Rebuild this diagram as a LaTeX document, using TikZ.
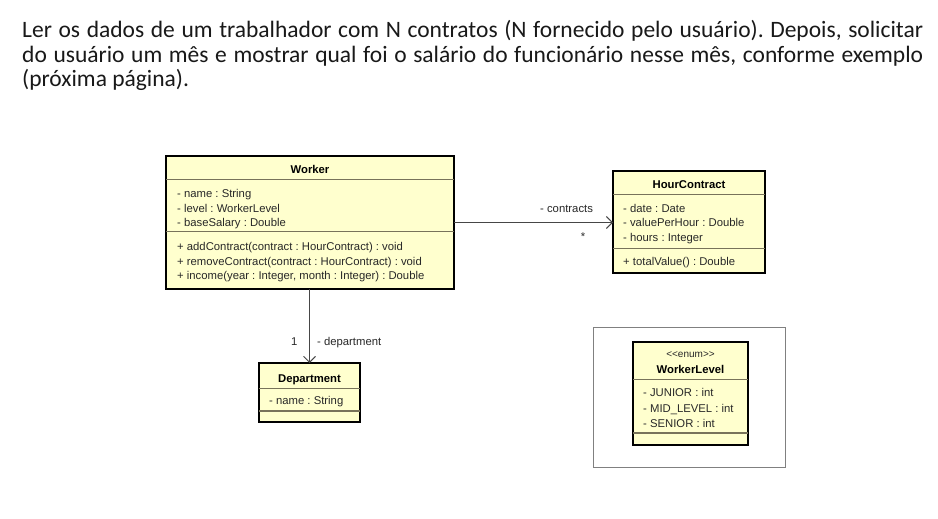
\documentclass[tikz,border=0pt]{standalone}
\usepackage{fontspec}
\setmainfont{Liberation Sans}
\newfontfamily\headfont{Carlito}
\usetikzlibrary{arrows.meta}
\definecolor{umlfill}{RGB}{255,255,206}
\definecolor{sepcol}{RGB}{120,115,90}
\definecolor{linkcol}{RGB}{70,70,70}
\definecolor{txtcol}{RGB}{40,40,40}
\frenchspacing
\begin{document}
\begin{tikzpicture}[x=1pt,y=-1pt,
  umlbox/.style={draw=black, line width=2pt, fill=umlfill, inner sep=0pt, outer sep=0pt},
  sep/.style={draw=sepcol, line width=0.9pt},
  ut/.style={font=\fontsize{11.3}{14}\selectfont, text=txtcol, inner sep=0pt, anchor=base west},
  utc/.style={ut, anchor=base},
  ttl/.style={font=\bfseries\fontsize{11.3}{14}\selectfont, text=black, inner sep=0pt, anchor=base},
  assoc/.style={draw=linkcol, line width=0.9pt, -{Straight Barb[length=6pt,width=12pt,line width=0.9pt]}},
  head/.style={font=\headfont\fontsize{23.5}{26}\selectfont, text=black!90, inner sep=0pt, anchor=base west},
  frame/.style={draw=black!50, line width=0.8pt, inner sep=0pt, outer sep=0pt}
]
\useasboundingbox[fill=white] (0,0) rectangle (938,519);

% heading
\node[head] (h1) at (22,38) {\makebox[901pt][s]{Ler os dados de um trabalhador com N contratos (N fornecido pelo usuário). Depois, solicitar}};
\node[head] (h2) at (22,63) {\makebox[901pt][s]{do usuário um mês e mostrar qual foi o salário do funcionário nesse mês, conforme exemplo}};
\node[head] (h3) at (22,87) {(próxima página).};

% Worker
\node[umlbox, minimum width=288pt, minimum height=133pt] (worker) at (310,222.5) {};
\draw[sep] (166,179) -- (454,179);
\draw[sep] (166,231) -- (454,231);
\node[ttl] (wt) at (310,173) {Worker};
\node[ut] (w1) at (177,197) {- name : String};
\node[ut] (w2) at (177,212) {- level : WorkerLevel};
\node[ut] (w3) at (177,226) {- baseSalary : Double};
\node[ut] (w4) at (177,250) {+ addContract(contract : HourContract) : void};
\node[ut] (w5) at (177,265) {+ removeContract(contract : HourContract) : void};
\node[ut] (w6) at (177,279) {+ income(year : Integer, month : Integer) : Double};

% HourContract
\node[umlbox, minimum width=152pt, minimum height=102pt] (hc) at (689,222) {};
\draw[sep] (613,194) -- (765,194);
\draw[sep] (613,248) -- (765,248);
\node[ttl] (hct) at (689,188) {HourContract};
\node[ut] (hc1) at (623,212) {- date : Date};
\node[ut] (hc2) at (623,226) {- valuePerHour : Double};
\node[ut] (hc3) at (623,241) {- hours : Integer};
\node[ut] (hc4) at (623,265) {+ totalValue() : Double};

% Department
\node[umlbox, minimum width=101pt, minimum height=59pt] (dep) at (309.5,392.5) {};
\draw[sep] (259,388) -- (360,388);
\draw[sep, line width=1.6pt] (259,411) -- (360,411);
\node[ttl] (dt) at (309.5,382) {Department};
\node[ut] (d1) at (269,404) {- name : String};

% WorkerLevel in frame
\node[frame, minimum width=192pt, minimum height=140pt] (fr) at (689,397) {};
\node[umlbox, minimum width=115pt, minimum height=103pt] (wl) at (690.5,393.5) {};
\draw[sep] (633,379) -- (748,379);
\draw[sep, line width=1.6pt] (633,433) -- (748,433);
\node[utc, font=\fontsize{10}{12}\selectfont] (st) at (690.5,357) {<{}<enum>{}>};
\node[ttl] (wlt) at (690.5,373) {WorkerLevel};
\node[ut] (wl1) at (643,396) {- JUNIOR : int};
\node[ut] (wl2) at (643,412) {- MID\_LEVEL : int};
\node[ut] (wl3) at (643,427) {- SENIOR : int};

% associations
\draw[assoc] (worker.east) -- (worker.east -| hc.west);
\node[ut] (lc) at (540,212) {- contracts};
\node[utc] (lm) at (583,240) {*};
\draw[assoc] (dep.north |- worker.south) -- (dep.north);
\node[ut] (l1) at (291,345) {1};
\node[ut] (ld) at (317,345) {- department};
\end{tikzpicture}
\end{document}
